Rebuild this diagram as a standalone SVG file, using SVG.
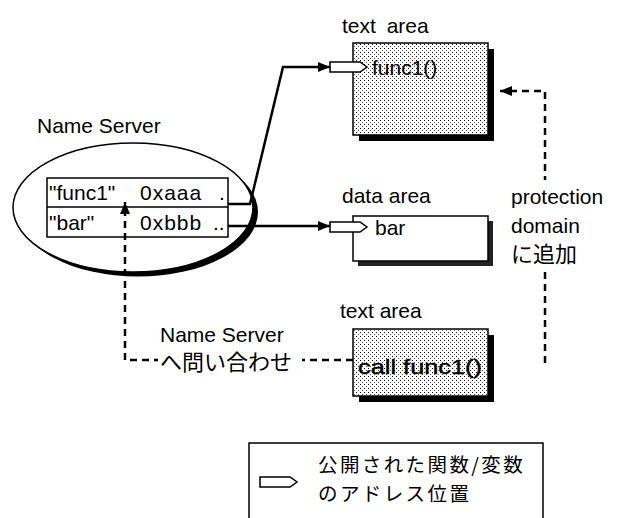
<svg xmlns="http://www.w3.org/2000/svg" width="618" height="518" viewBox="0 0 618 518">
<style>
.t{font-family:"Liberation Sans",Arial,sans-serif;font-size:21px;fill:#000}
.j{font-family:"Noto Sans CJK JP","Liberation Sans",sans-serif;font-size:22px;fill:#000}
.lg{font-family:"Noto Sans CJK JP","Liberation Sans",sans-serif;font-size:19.5px;letter-spacing:2.4px;fill:#000}
.box{stroke:#000;stroke-width:1.5}
.sh{fill:#000}
.port{fill:#fff;stroke:#000;stroke-width:1.5}
.solid{fill:none;stroke:#000;stroke-width:2.5}
.dash{fill:none;stroke:#000;stroke-width:2.5;stroke-dasharray:7 5}
</style>
<defs>
<pattern id="dots" width="4" height="4" patternUnits="userSpaceOnUse">
<rect width="4" height="4" fill="#fff"/>
<rect x="0" y="0" width="1" height="1" fill="#000"/>
<rect x="2" y="2" width="1" height="1" fill="#555"/>
</pattern>
<marker id="ah" viewBox="0 0 12 10" refX="12" refY="5" markerWidth="12" markerHeight="10" markerUnits="userSpaceOnUse" orient="auto">
<path d="M0,0 L12,5 L0,10 Z" fill="#000"/>
</marker>
<path id="pent" d="M0,-5 H30 L37,0 L30,5 H0 Z"/>
</defs>

<g id="name-server">
<text class="t" x="37" y="133">Name Server</text>
<ellipse cx="138" cy="212" rx="120" ry="64.5" fill="#000"/>
<ellipse cx="133" cy="207.5" rx="120" ry="64.5" fill="#fff" stroke="#000" stroke-width="1.5"/>
<rect x="47" y="178" width="181" height="59" fill="#fff" class="box"/>
<line x1="47" y1="207" x2="228" y2="207" stroke="#000" stroke-width="1.5"/>
<text class="t" x="49" y="200">"func1"</text>
<text class="t" x="140" y="200" letter-spacing="1">0xaaa</text>
<text class="t" x="219" y="200">.</text>
<text class="t" x="49" y="230">"bar"</text>
<text class="t" x="140" y="230" letter-spacing="1">0xbbb</text>
<text class="t" x="213" y="230">..</text>
</g>

<g id="text-area-1">
<text class="t" x="342" y="33" word-spacing="5">text area</text>
<rect x="359" y="49" width="135" height="92" class="sh"/>
<rect x="353" y="43" width="135" height="92" fill="url(#dots)" class="box"/>
<use href="#pent" x="330" y="67" class="port"/>
<text class="t" x="372" y="75">func1()</text>
</g>

<g id="data-area">
<text class="t" x="342" y="203">data area</text>
<rect x="358" y="221" width="135" height="45" fill="#222"/>
<rect x="353" y="216" width="135" height="45" fill="#fff" class="box"/>
<use href="#pent" x="330" y="227" class="port"/>
<text class="t" x="375" y="235">bar</text>
</g>

<g id="text-area-2">
<text class="t" x="340" y="318">text area</text>
<rect x="359" y="335" width="135" height="67" class="sh"/>
<rect x="353" y="329" width="135" height="67" fill="url(#dots)" class="box"/>
</g>

<g id="connectors">
<path class="solid" d="M228,204 H250 L283,67 H330" marker-end="url(#ah)"/>
<path class="solid" d="M228,226 H330" marker-end="url(#ah)"/>
<path class="dash" d="M353,360 H125 V202" marker-end="url(#ah)"/>
<path class="dash" d="M545,363 V91 H500" marker-end="url(#ah)"/>
</g>

<g id="call-label">
<text class="t" x="358" y="374" textLength="124" lengthAdjust="spacingAndGlyphs" stroke="#000" stroke-width="0.4">call func1()</text>
</g>

<g id="query-label">
<rect x="158" y="349" width="144" height="26" fill="#fff"/>
<text class="t" x="160" y="342">Name Server</text>
<text class="j" x="160" y="370">へ問い合わせ</text>
</g>

<g id="protection-label">
<rect x="505" y="180" width="113" height="90" fill="#fff"/>
<text class="t" x="511" y="204">protection</text>
<text class="t" x="511" y="233">domain</text>
<text class="j" x="511" y="262">に追加</text>
</g>

<g id="legend">
<path d="M249,518 V443 H543 V518" fill="none" stroke="#000" stroke-width="1.5"/>
<use href="#pent" x="260" y="482" class="port"/>
<text class="lg" x="318" y="472">公開された関数/変数</text>
<text class="lg" x="318" y="501">のアドレス位置</text>
</g>
</svg>
